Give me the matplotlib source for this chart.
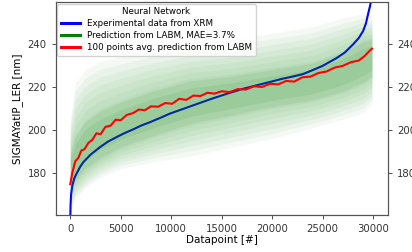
import matplotlib
matplotlib.use("Agg")
import matplotlib.pyplot as plt
from matplotlib.lines import Line2D
import numpy as np

exp_x = [0, 30, 80, 200, 400, 630, 1000, 1290, 2000, 2940, 3700, 4590, 5400,
         6240, 7000, 7890, 8900, 9870, 11000, 12500, 14000, 15500, 17000,
         18500, 19770, 21000, 22000, 23070, 24000, 25000, 26380, 27200,
         28030, 28600, 29020, 29300, 29510, 29700, 29840, 29950]
exp_y = [157, 165, 170, 174, 177.5, 179.8, 183, 185, 188.5, 192, 194.5, 196.7,
         198.6, 200.3, 202, 203.6, 205.6, 207.6, 209.5, 212, 214.5, 216.8,
         219, 220.8, 222.3, 223.8, 224.8, 226, 227.8, 229.8, 233.4, 236,
         239.8, 242.8, 246, 249.5, 253.8, 257.5, 260.5, 266]

# 100-point moving average of the prediction
avg_x = [0, 200, 500, 800, 1100, 1400, 1800, 2200, 2600, 3000, 3500, 4000,
         4500, 5000, 5600, 6200, 6800, 7400, 8000, 8700, 9400, 10100, 10800,
         11500, 12200, 12900, 13600, 14300, 15000, 15800, 16600, 17400, 18200,
         19000, 19800, 20600, 21400, 22200, 23000, 23800, 24600, 25400, 26200,
         27000, 27800, 28600, 29200, 29600, 29900]
avg_y = [174.8, 180, 185.5, 187, 190.5, 191, 194, 195.5, 198.5, 198, 201.5,
         202, 204.8, 204.5, 207, 207.8, 209.5, 209.2, 211, 210.8, 212.5, 212.2,
         214.5, 214, 216, 215.8, 217.3, 216.9, 218, 217.6, 219, 218.8, 220.3,
         220, 221.5, 221.2, 222.8, 222.5, 224.5, 224.8, 226.5, 227.2, 229,
         229.8, 231.5, 232.3, 234.5, 236.5, 237.8]

# spread of the single predictions (envelopes)
band_x = [0, 500, 1500, 3000, 5000, 8000, 12000, 16000, 20000, 24000, 27000,
          29000, 29900]
outer_hi = [205, 222, 228, 232, 234, 237, 240, 242, 245, 248, 252, 254, 252]
outer_lo = [162, 168, 173, 178, 182, 185, 188, 192, 196, 201, 205, 208, 212]
inner_hi = [190, 198, 205, 210, 214, 219, 224, 226, 229, 232, 237, 242, 243]
inner_lo = [170, 176, 181, 186, 191, 196, 202, 206, 210, 213, 217, 221, 224]

yticks = [180, 200, 220, 240]
xticks = [0, 5000, 10000, 15000, 20000, 25000, 30000]

plt.rcParams["font.size"] = 7.5
fig = plt.figure(figsize=(4.12, 2.52), dpi=100)
ax = fig.add_axes([0.135, 0.147, 0.807, 0.845])

ax.plot(exp_x, exp_y, color="blue", lw=1.5, zorder=2)

# soft-edged green cloud: stack layers from the outer envelope to the core
ohi, olo = np.array(outer_hi), np.array(outer_lo)
ihi, ilo = np.array(inner_hi), np.array(inner_lo)
for t in np.linspace(0, 1, 7):
    ax.fill_between(band_x, olo + t * (ilo - olo), ohi + t * (ihi - ohi),
                    color="green", alpha=0.045, lw=0, zorder=3)
mid = (ihi + ilo) / 2
for w in (0.45, 0.3):
    ax.fill_between(band_x, mid - w * (ihi - ilo), mid + w * (ihi - ilo),
                    color="green", alpha=0.08, lw=0, zorder=3)

ax.plot(avg_x, avg_y, color="red", lw=1.5, zorder=4)

ax.set_xlim(-1450, 31500)
ax.set_ylim(160.5, 259.5)
ax.set_xticks(xticks)
ax.set_yticks(yticks)
ax.set_xlabel("Datapoint [#]", labelpad=1)
ax.set_ylabel("SIGMAYatIP_LER [nm]", labelpad=3)

ax2 = ax.twinx()
ax2.set_ylim(ax.get_ylim())
ax2.set_yticks(yticks)

for a in (ax, ax2):
    a.tick_params(labelsize=7.3, colors="#333333", length=3, width=0.6)
    for s in a.spines.values():
        s.set_color("#555555")
        s.set_linewidth(0.8)

handles = [Line2D([], [], color="blue", lw=2.2),
           Line2D([], [], color="green", lw=2.2),
           Line2D([], [], color="red", lw=2.2)]
labels = ["Experimental data from XRM", "Prediction from LABM, MAE=3.7%",
          "100 points avg. prediction from LABM"]
leg = ax.legend(handles, labels, title="Neural Network", loc="upper left",
                fontsize=6.3, title_fontsize=6.3, borderaxespad=0.2,
                labelspacing=0.35, borderpad=0.4, handlelength=2.2,
                framealpha=0.85)
leg.set_zorder(10)

fig.savefig("out.png", dpi=100)
